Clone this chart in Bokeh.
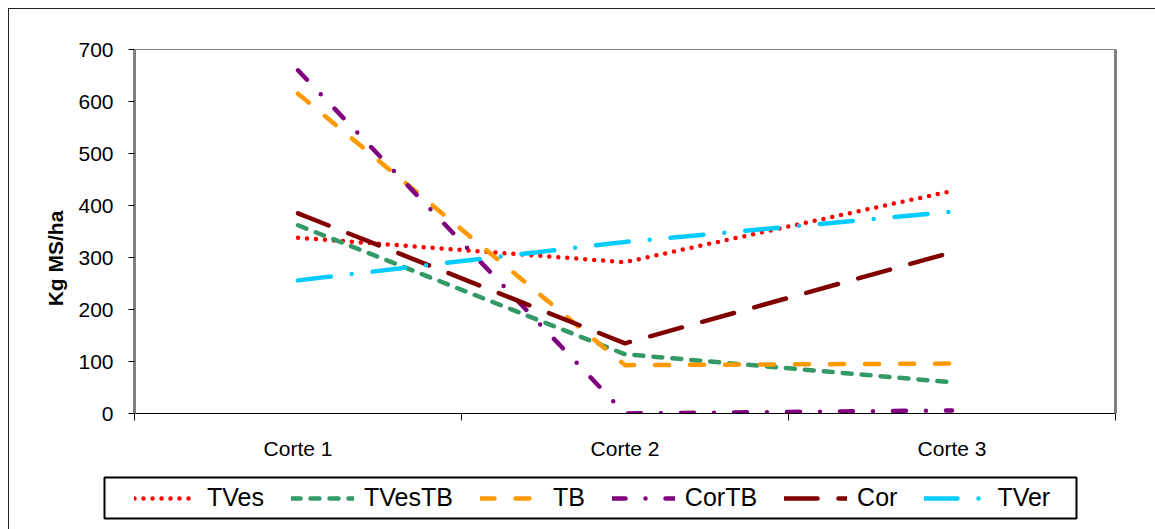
import math
from bokeh.plotting import figure
from bokeh.layouts import column, row
from bokeh.models import (Range1d, FixedTicker, LinearAxis, Legend, LegendItem,
                          BoxAnnotation, Label)
from bokeh.embed import file_html
from bokeh.resources import INLINE

# Forage yield per cut (kg dry matter per hectare)
categories = ["Corte 1", "Corte 2", "Corte 3"]
tves = [338, 291, 428]
tvestb = [362, 114, 60]
tb = [615, 93, 96]
cortb = [660, 0, 6]
cor = [385, 135, 310]
tver = [256, 330, 388]
y_ticks = [0, 100, 200, 300, 400, 500, 600, 700]
y_title = "Kg MS/ha"

FONT = "Liberation Sans"

xs = [i + 0.5 for i in range(len(categories))]
bounds = [float(i) for i in range(len(categories) + 1)]

p = figure(width=1087, height=456, output_backend="svg", toolbar_location=None,
           x_range=Range1d(0, len(categories)), y_range=Range1d(0, 700),
           min_border_left=65, min_border_right=41, min_border_top=40,
           min_border_bottom=52)
p.background_fill_color = "white"
p.border_fill_color = "white"
p.outline_line_color = "#808080"
p.outline_line_width = 1
p.xgrid.visible = False
p.ygrid.visible = False

# category axis: labels centred on each cut, ticks on the boundaries
xa = p.xaxis[0]
xa.ticker = FixedTicker(ticks=xs, minor_ticks=bounds)
xa.major_label_overrides = {x: c for x, c in zip(xs, categories)}
xa.major_tick_out = 0
xa.major_tick_in = 0
xa.minor_tick_out = 7
xa.minor_tick_in = 0
xa.minor_tick_line_color = "black"
xa.axis_line_color = "black"
xa.axis_line_width = 1
xa.major_label_text_font = FONT
xa.major_label_text_font_size = "21px"
xa.major_label_text_color = "black"
xa.major_label_standoff = 16

ya = p.yaxis[0]
ya.ticker = FixedTicker(ticks=y_ticks)
ya.major_tick_out = 6
ya.major_tick_in = 0
ya.major_tick_line_color = "black"
ya.minor_tick_line_color = None
ya.axis_line_color = "#808080"
ya.axis_line_width = 3
ya.major_label_text_font = FONT
ya.major_label_text_font_size = "21px"
ya.major_label_text_color = "black"
ya.major_label_standoff = 15

right = LinearAxis(ticker=FixedTicker(ticks=[]))
right.axis_line_color = "#808080"
right.axis_line_width = 3
right.major_tick_line_color = None
right.minor_tick_line_color = None
right.major_label_text_font_size = "0px"
p.add_layout(right, "right")

# narrow strip left of the chart holding the vertical axis title
yl = figure(width=60, height=456, output_backend="svg", toolbar_location=None,
            x_axis_type=None, y_axis_type=None, x_range=Range1d(0, 60),
            y_range=Range1d(0, 456), min_border=0)
yl.frame_align = False
yl.outline_line_color = None
yl.xgrid.visible = False
yl.ygrid.visible = False
yl.background_fill_color = "white"
yl.border_fill_color = "white"
yl.add_layout(Label(x=46, y=207, text=y_title, angle=math.pi / 2,
                    text_align="center", text_baseline="middle",
                    text_font=FONT, text_font_size="21px",
                    text_font_style="bold", text_color="black"))

series = [
    ("TVes", tves, "#FF0000", "0 9"),
    ("TVesTB", tvestb, "#339966", "9 10"),
    ("TB", tb, "#FF9900", "14 21"),
    ("CorTB", cortb, "#800080", "13 20 0 20"),
    ("Cor", cor, "#800000", "33 21"),
    ("TVer", tver, "#00CCFF", "33 21 0 21"),
]

# strip below the chart that carries the legend box; its ranges keep the
# key renderers' own lines out of view so only the legend shows
lf = figure(width=1147, height=64, output_backend="svg", toolbar_location=None,
            x_axis_type=None, y_axis_type=None, x_range=Range1d(-2, -1),
            y_range=Range1d(-2, -1), min_border=0)
lf.frame_align = False
lf.outline_line_color = None
lf.xgrid.visible = False
lf.ygrid.visible = False
lf.background_fill_color = "white"
lf.border_fill_color = "white"

# legend frame
lf.add_layout(BoxAnnotation(left=95, right=1067, bottom=11, top=52,
                            left_units="screen", right_units="screen",
                            bottom_units="screen", top_units="screen",
                            fill_color="white", fill_alpha=1,
                            line_color="black", line_width=2, line_alpha=1))

items = []
for name, vals, color, dash in series:
    style = dict(line_color=color, line_width=4.5, line_dash=dash,
                 line_cap="round", line_join="round")
    p.line(xs, vals, **style)
    key = lf.line(xs, vals, **style)
    items.append(LegendItem(label=name, renderers=[key]))

legend = Legend(items=items, orientation="horizontal", location=(125, 17))
legend.label_text_font = FONT
legend.label_text_font_size = "25px"
legend.label_text_color = "black"
legend.glyph_width = 63
legend.glyph_height = 20
legend.label_standoff = 10
legend.spacing = 27
legend.padding = 0
legend.margin = 0
legend.border_line_color = None
legend.background_fill_alpha = 0
lf.add_layout(legend)

page = column(row(yl, p, spacing=0), lf, spacing=0, margin=(8, 0, 0, 8),
              styles={"border-left": "1px solid #222", "border-top": "1px solid #222"})

open("out.html", "w").write(file_html(page, INLINE))
